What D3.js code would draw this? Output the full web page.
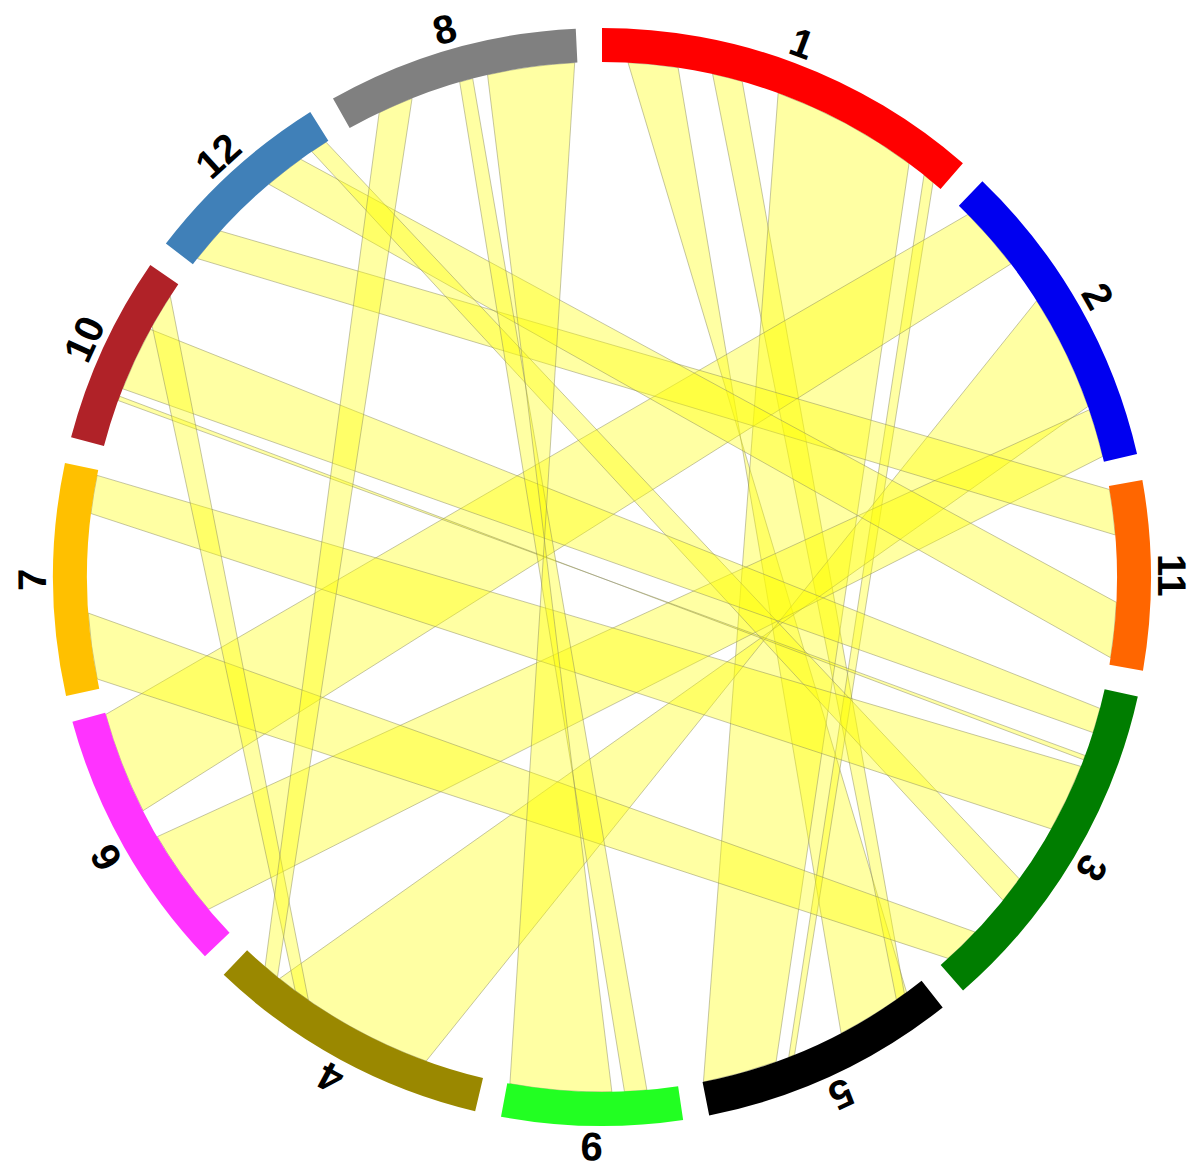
<!DOCTYPE html>
<html>
<head>
<meta charset="utf-8">
<script src="https://cdn.jsdelivr.net/npm/d3@7"></script>
<style>
  body { margin: 0; background: #fff; }
</style>
</head>
<body>
<script>
// segments, clockwise from 12 o'clock
var segNames  = ["1", "2", "11", "3", "5", "9", "4", "6", "7", "10", "12", "8"];
var segSizes  = [41.1, 33.2, 20.0, 36.3, 27.1, 19.1, 30.2, 28.4, 24.5, 19.9, 20.5, 26.6];
var segColors = ["#ff0000", "#0000f0", "#ff6600", "#007d00", "#000000", "#22ff22",
                 "#9a8800", "#ff33ff", "#ffc000", "#b02228", "#4080b8", "#808080"];
var gap = 2.76;

// links: [segA, fromA, toA, segB, fromB, toB]  (fromA joins fromB, toA joins toB)
var links = [
  ["1", 2.9, 8.5, "5", 2.1, 10.7],
  ["1", 12.4, 15.8, "5", 3.5, 2.4],
  ["1", 20.0, 36.6, "5", 27.0, 18.6],
  ["1", 38.7, 40.0, "5", 17.1, 16.4],
  ["2", 1.4, 8.7, "6", 28.2, 16.7],
  ["2", 13.7, 26.8, "4", 6.6, 25.4],
  ["2", 27.2, 32.6, "6", 13.4, 3.5],
  ["11", 0.4, 5.5, "12", 4.8, 0.8],
  ["11", 13.0, 19.2, "12", 16.8, 12.3],
  ["12", 18.3, 20.2, "3", 26.3, 23.3],
  ["10", 14.0, 6.7, "3", 2.2, 5.0],
  ["10", 5.3, 5.8, "3", 7.7, 8.2],
  ["7", 23.9, 19.6, "3", 9.0, 16.7],
  ["7", 8.5, 1.1, "3", 31.0, 35.2],
  ["10", 14.4, 18.3, "4", 23.2, 21.4],
  ["8", 3.7, 7.7, "4", 27.5, 25.7],
  ["8", 13.3, 14.8, "9", 6.0, 3.5],
  ["8", 16.5, 26.3, "9", 7.4, 18.8]
];

var w = 1188, h = 1168;
var cx = 602, cy = 577;
var rOuter = 549, rInner = 515, rLabel = 570;

// cumulative start of each segment
var segStart = {};
var acc = 0;
segNames.forEach(function(n, i) {
  segStart[n] = acc;
  acc += segSizes[i] + gap;
});

var angle = d3.scaleLinear().domain([0, 360]).range([0, 2 * Math.PI]);
function pos(seg, v) { return angle(segStart[seg] + v); }

var svg = d3.select("body").append("svg")
  .attr("width", w)
  .attr("height", h);

var g = svg.append("g").attr("transform", "translate(" + cx + "," + cy + ")");

function pt(a, r) { return [r * Math.sin(a), -r * Math.cos(a)]; }

function ribbon(d) {
  var a0 = pos(d[0], d[1]), a1 = pos(d[0], d[2]);
  var b0 = pos(d[3], d[4]), b1 = pos(d[3], d[5]);
  var p = d3.path();
  var s = pt(a0, rInner);
  p.moveTo(s[0], s[1]);
  p.arc(0, 0, rInner, a0 - Math.PI / 2, a1 - Math.PI / 2, a1 < a0);
  var t = pt(b1, rInner);
  p.lineTo(t[0], t[1]);
  p.arc(0, 0, rInner, b1 - Math.PI / 2, b0 - Math.PI / 2, b0 < b1);
  p.closePath();
  return p.toString();
}

g.selectAll("path.link")
  .data(links)
  .enter()
  .append("path")
  .attr("class", "link")
  .attr("d", ribbon)
  .attr("fill", "#ffff00")
  .attr("fill-opacity", 0.36)
  .attr("stroke", "#8a8a60")
  .attr("stroke-opacity", 0.55)
  .attr("stroke-width", 0.9);

var arc = d3.arc()
  .innerRadius(rInner)
  .outerRadius(rOuter);

g.selectAll("path.seg")
  .data(segNames)
  .enter()
  .append("path")
  .attr("class", "seg")
  .attr("d", function(n, i) {
    return arc({ startAngle: pos(n, 0), endAngle: pos(n, segSizes[i]) });
  })
  .attr("fill", function(n, i) { return segColors[i]; });

g.selectAll("text.lab")
  .data(segNames)
  .enter()
  .append("text")
  .attr("class", "lab")
  .attr("transform", function(n, i) {
    var deg = segStart[n] + segSizes[i] / 2;
    return "rotate(" + deg + ") translate(0," + (-rLabel) + ")";
  })
  .attr("text-anchor", "middle")
  .attr("dominant-baseline", "central")
  .attr("font-family", "Liberation Sans, Arial, sans-serif")
  .attr("font-weight", "bold")
  .attr("font-size", 40)
  .attr("fill", "#000")
  .text(function(n) { return n; });
</script>
</body>
</html>
